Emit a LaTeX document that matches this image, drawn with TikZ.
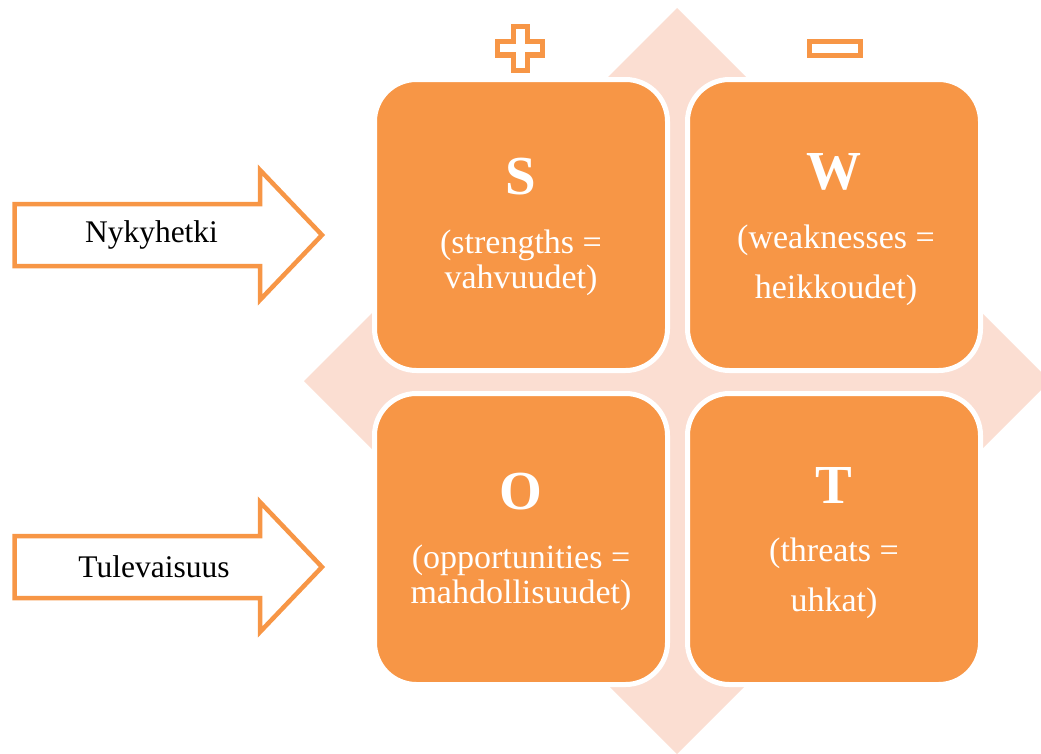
\documentclass[tikz,border=0pt]{standalone}
\usepackage{fontspec}
\setmainfont{Liberation Serif}
\usetikzlibrary{positioning}

\definecolor{swotorange}{HTML}{F79646}
\definecolor{swotpeach}{HTML}{FBDED2}

\tikzset{
  quadrant/.style={draw=white, line width=5pt, fill=swotorange, rounded corners=42pt, minimum width=293pt, minimum height=291pt, inner sep=0pt, outer sep=0pt},
  letter/.style={text=white, font=\bfseries\fontsize{55}{60}\selectfont},
  explain/.style={text=white, align=center, font=\fontsize{34}{35}\selectfont},
  explainwide/.style={explain, font=\fontsize{34}{50}\selectfont},
  timearrow/.style={draw=swotorange, line width=4.5pt, fill=white},
  timelabel/.style={text=black, font=\fontsize{31.5}{36}\selectfont},
  sign/.style={draw=swotorange, line width=5.5pt}
}

\begin{document}
\begin{tikzpicture}[x=1pt, y=-1pt]
\useasboundingbox (0,0) rectangle (1041,753);
% background diamond
\fill[swotpeach] (677,8) -- (1050,381) -- (677,754) -- (304,381) -- cycle;
% the four fields
\node[quadrant] (S) at (521,225) {};
\node[quadrant, right=20pt of S] (W) {};
\node[quadrant, below=23pt of S] (O) {};
\node[quadrant, right=20pt of O] (T) {};
\node[letter, yshift=48pt] (Sletter) at (S.center) {S};
\node[explain, yshift=-37.5pt] (Stext) at (S.center) {(strengths =\\ vahvuudet)};
\node[letter, yshift=53pt] (Wletter) at (W.center) {W};
\node[explainwide, yshift=-40pt, xshift=2pt] (Wtext) at (W.center) {(weaknesses =\\ heikkoudet)};
\node[letter, yshift=47pt] (Oletter) at (O.center) {O};
\node[explain, yshift=-38.5pt] (Otext) at (O.center) {(opportunities =\\ mahdollisuudet)};
\node[letter, yshift=54pt] (Tletter) at (T.center) {T};
\node[explainwide, yshift=-39pt] (Ttext) at (T.center) {(threats =\\ uhkat)};
% plus and minus
\draw[sign] (513.5,26.5) -- (527.5,26.5) -- (527.5,41.5) -- (542.5,41.5) -- (542.5,55) -- (527.5,55) -- (527.5,70.5) -- (513.5,70.5) -- (513.5,55) -- (497.5,55) -- (497.5,41.5) -- (513.5,41.5) -- cycle;
\draw[sign] (809.5,41.5) rectangle (860.5,55.5);
% time arrows
\draw[timearrow] (14.5,204) -- (260,204) -- (260,170) -- (322,235) -- (260,300) -- (260,266) -- (14.5,266) -- cycle;
\node[timelabel] (now) at (151.5,235) {Nykyhetki};
\draw[timearrow] (14.5,536) -- (260,536) -- (260,502) -- (322,567) -- (260,632) -- (260,598) -- (14.5,598) -- cycle;
\node[timelabel] (future) at (154,567) {Tulevaisuus};
\end{tikzpicture}
\end{document}
